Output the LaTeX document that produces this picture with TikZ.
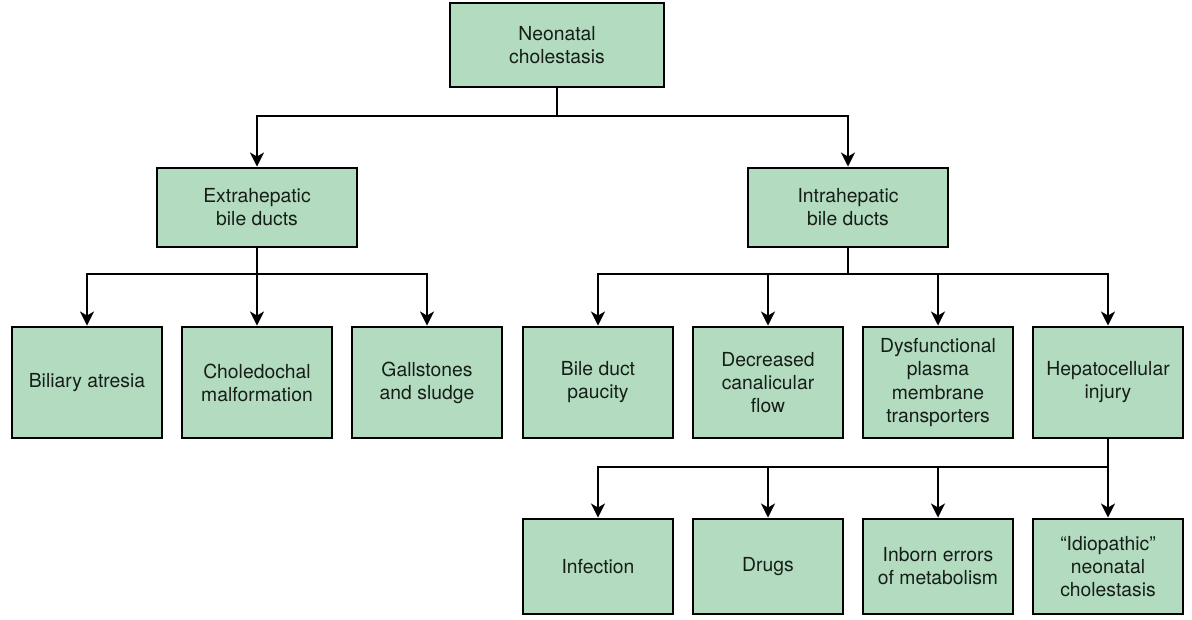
\documentclass[tikz,border=0pt]{standalone}
\usepackage{fontspec}
\setmainfont{TeX Gyre Heros}
\usetikzlibrary{arrows.meta}
\definecolor{boxgreen}{RGB}{179,219,192}
\definecolor{txt}{RGB}{22,30,24}
\begin{document}
\begin{tikzpicture}[x=0.75pt,y=-0.75pt,
  box/.style={draw=black,fill=boxgreen,line width=2.2pt,align=center,text=txt,
    font=\fontsize{14.5}{17.3}\selectfont,inner sep=0pt},
  topbox/.style={box,minimum width=160.5pt,minimum height=63pt},
  midbox/.style={box,minimum width=150pt,minimum height=59.25pt},
  leafbox/.style={box,minimum width=112.5pt,minimum height=83.25pt},
  lowbox/.style={box,minimum width=112.5pt,minimum height=71.25pt},
  conn/.style={line width=2.2pt},
  arr/.style={conn,-{Stealth[length=10.5pt,width=10.5pt,inset=3pt]}}]
\useasboundingbox (0,0) rectangle (1192,620);
\node[topbox] (top) at (557,45) {Neonatal\\cholestasis};
\node[midbox] (extra) at (257,207.5) {Extrahepatic\\bile ducts};
\node[midbox] (intra) at (848,207.5) {Intrahepatic\\bile ducts};
\node[leafbox] (b1) at (87,382.5) {Biliary atresia};
\node[leafbox] (b2) at (257,382.5) {Choledochal\\malformation};
\node[leafbox] (b3) at (427,382.5) {Gallstones\\and sludge};
\node[leafbox] (b4) at (598,382.5) {Bile duct\\paucity};
\node[leafbox] (b5) at (768,382.5) {Decreased\\canalicular\\flow};
\node[leafbox] (b6) at (938,382.5) {Dysfunctional\\plasma\\membrane\\transporters};
\node[leafbox] (b7) at (1108,382.5) {Hepatocellular\\injury};
\node[lowbox] (c1) at (598,566.5) {Infection};
\node[lowbox] (c2) at (768,566.5) {Drugs};
\node[lowbox] (c3) at (938,566.5) {Inborn errors\\of metabolism};
\node[lowbox] (c4) at (1108,566.5) {“Idiopathic”\\neonatal\\cholestasis};
\coordinate (j1) at (557,116);
\coordinate (j2) at (257,274);
\coordinate (j3) at (848,274);
\coordinate (j4) at (1108,467);
\draw[conn] (top.south) -- (j1);
\draw[arr] (j1) -| (extra.north);
\draw[arr] (j1) -| (intra.north);
\draw[conn] (extra.south) -- (j2);
\draw[arr] (j2) -| (b1.north);
\draw[arr] (j2) -- (b2.north);
\draw[arr] (j2) -| (b3.north);
\draw[conn] (intra.south) -- (j3);
\draw[arr] (j3) -| (b4.north);
\draw[arr] (j3) -| (b5.north);
\draw[arr] (j3) -| (b6.north);
\draw[arr] (j3) -| (b7.north);
\draw[conn] (b7.south) -- (j4);
\draw[arr] (j4) -| (c1.north);
\draw[arr] (j4) -| (c2.north);
\draw[arr] (j4) -| (c3.north);
\draw[arr] (j4) -- (c4.north);
\end{tikzpicture}
\end{document}
